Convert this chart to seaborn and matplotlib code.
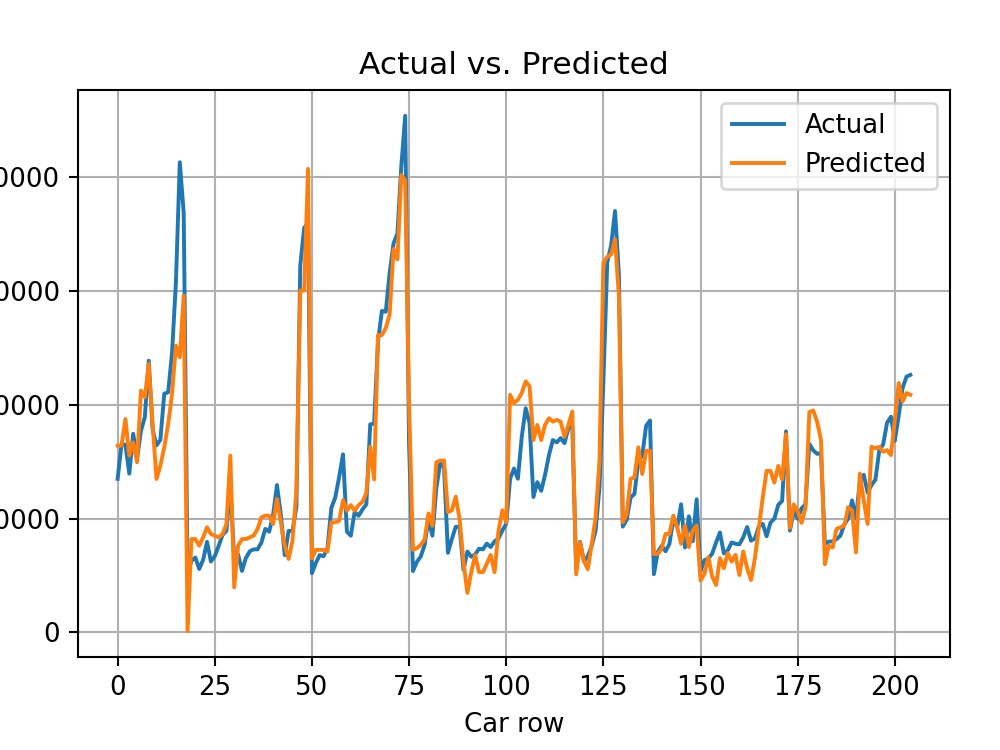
import numpy as np
import pandas as pd
import matplotlib
matplotlib.use("Agg")
import matplotlib.pyplot as plt
import seaborn as sns

# Actual car prices (rows 0..204)
actual = [
    13495, 16500, 16500, 13950, 17450, 15250, 17710, 18920, 23875, 17859,
    16430, 16925, 20970, 21105, 24565, 30760, 41315, 36880, 5151, 6295,
    6575, 5572, 6377, 7957, 6229, 6692, 7609, 8558, 8921, 12964,
    6479, 6855, 5399, 6529, 7129, 7295, 7295, 7895, 9095, 8845,
    10295, 12945, 10345, 6785, 8916, 8916, 11048, 32250, 35550, 36000,
    5195, 6095, 6795, 6695, 7395, 10945, 11845, 13645, 15645, 8845,
    8495, 10595, 10245, 10795, 11245, 18280, 18344, 25552, 28248, 28176,
    31600, 34184, 35056, 40960, 45400, 16503, 5389, 6189, 6669, 7689,
    9959, 8499, 12629, 14869, 14489, 6989, 8189, 9279, 9279, 5499,
    7099, 6649, 6849, 7349, 7299, 7799, 7499, 7999, 8249, 8949,
    9549, 13499, 14399, 13499, 17199, 19699, 18399, 11900, 13200, 12440,
    13860, 15580, 16900, 16695, 17075, 16630, 17950, 18150, 5572, 7957,
    6229, 6692, 7609, 8921, 12764, 22018, 32528, 34028, 37028, 31400,
    9295, 9895, 11850, 12170, 15040, 15510, 18150, 18620, 5118, 7053,
    7603, 7126, 7775, 9960, 9233, 11259, 7463, 10198, 8013, 11694,
    5348, 6338, 6488, 6918, 7898, 8778, 6938, 7198, 7898, 7788,
    7738, 8358, 9258, 8058, 8238, 9298, 9538, 8449, 9639, 9989,
    11199, 11549, 17669, 8948, 10698, 9988, 10898, 11248, 16558, 15998,
    15690, 15750, 7775, 7975, 7995, 8195, 8495, 9495, 9995, 11595,
    9980, 13295, 13845, 12290, 12940, 13415, 15985, 16515, 18420, 18950,
    16845, 19045, 21485, 22470, 22625,
]

# Predicted prices
predicted = [
    16410, 16410, 18750, 15530, 16700, 14950, 21250, 20660, 23590, 18310,
    13480, 14650, 16260, 18310, 20950, 25200, 24180, 29600, 100, 8200,
    8200, 7620, 8350, 9230, 8640, 8500, 8350, 8640, 9520, 15530,
    3960, 7620, 8200, 8200, 8350, 8500, 9080, 10110, 10260, 10260,
    9520, 11720, 9670, 7620, 6450, 8060, 12500, 30040, 30040, 40730,
    6500, 7250, 7250, 7250, 7100, 9670, 9670, 9800, 11630, 10700,
    11180, 10700, 11180, 11480, 12240, 16300, 13440, 26130, 26130, 26740,
    27950, 33690, 32780, 40180, 39730, 20000, 7250, 7400, 7700, 8160,
    10450, 9370, 14950, 15100, 15100, 10570, 10720, 11930, 9970, 6190,
    3470, 5290, 6800, 5290, 5290, 6040, 6800, 5290, 8900, 10720,
    9670, 20880, 20150, 20440, 21030, 22060, 21620, 16900, 18230, 16900,
    18230, 18820, 18520, 18670, 18520, 17200, 18230, 19410, 5100, 7900,
    6280, 5550, 7760, 10120, 15130, 32500, 33000, 33220, 34530, 29500,
    9680, 10400, 13480, 13630, 16260, 13920, 15960, 15960, 6900, 6900,
    7340, 8650, 8650, 10260, 9240, 7780, 9390, 7490, 8950, 9390,
    4560, 5150, 6610, 4900, 4160, 6520, 5630, 6960, 6220, 6810,
    5040, 7110, 5630, 4600, 6520, 9170, 11830, 14190, 14190, 13160,
    14630, 13450, 17430, 9170, 11240, 10650, 9620, 10940, 19350, 19500,
    18520, 16900, 5990, 7610, 7460, 9090, 9230, 9380, 11000, 10710,
    7020, 13950, 11590, 9530, 16310, 16170, 16310, 15870, 16020, 15580,
    18670, 21920, 20290, 21030, 20880,
]

rows = list(range(len(actual)))

df = pd.DataFrame({"row": rows, "actual": actual, "predicted": predicted})

DPI = 187.5
fig = plt.figure(figsize=(1000 / DPI, 750 / DPI), dpi=DPI)
ax = fig.add_axes([0.078, 0.124, 0.872, 0.756])

sns.lineplot(data=df, x="row", y="actual", ax=ax, color="#1f77b4",
             linewidth=1.5, label="Actual")
sns.lineplot(data=df, x="row", y="predicted", ax=ax, color="#ff7f0e",
             linewidth=1.5, label="Predicted")

ax.set_title("Actual vs. Predicted", fontsize=12)
ax.set_xlabel("Car row", fontsize=10)
ax.set_ylabel("")
ax.set_xticks([0, 25, 50, 75, 100, 125, 150, 175, 200])
ax.set_yticks([0, 10000, 20000, 30000, 40000])
ax.grid(True, color="#b0b0b0", linewidth=0.8)
ax.legend(loc="upper right", fontsize=10)

fig.savefig("out.png", dpi=DPI)
